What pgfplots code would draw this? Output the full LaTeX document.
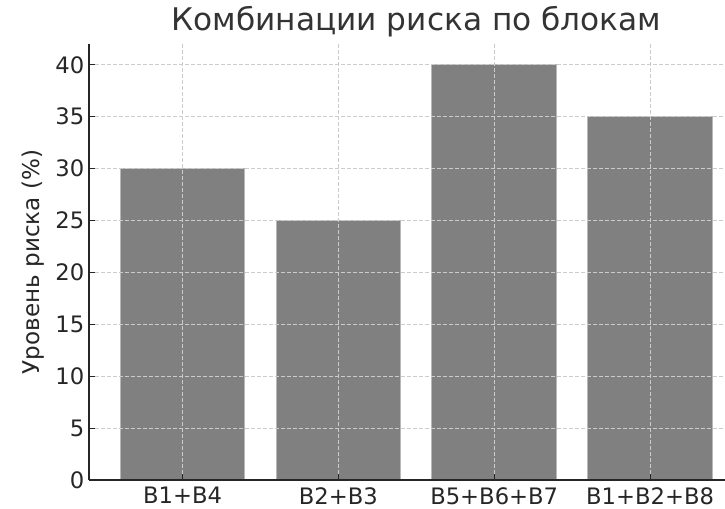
\documentclass[border=0pt]{standalone}
\usepackage{fontspec}
\setmainfont{DejaVu Sans}
\usepackage{pgfplots}
\pgfplotsset{compat=1.18}
\definecolor{txt}{HTML}{262626}
\definecolor{titlec}{HTML}{333333}
\definecolor{barc}{HTML}{808080}
\definecolor{baredge}{HTML}{B8B8B8}
\definecolor{gridc}{HTML}{CCCCCC}
\begin{document}
\begin{tikzpicture}
\path[use as bounding box, clip] (0pt,0pt) rectangle (543.75pt,381pt);
\begin{axis}[
  at={(66.75pt,21pt)}, anchor=south west,
  scale only axis, width=490.95pt, height=327pt,
  xmin=-0.6, xmax=3.6, ymin=0, ymax=42,
  axis lines=left,
  axis line style={-, line width=1.3pt, color=txt},
  axis on top,
  tick align=inside,
  major tick length=4.5pt,
  tick style={line width=0.75pt, color=txt},
  xtick={0,1,2,3},
  xticklabels={B1+B4, B2+B3, B5+B6+B7, B1+B2+B8},
  ytick={0,5,...,40},
  /pgf/number format/assume math mode=true,
  ticklabel style={font=\fontsize{17}{20}\selectfont, text=txt},
  xticklabel style={yshift=-2pt},
  grid=major,
  grid style={dash pattern=on 3pt off 1.5pt, gridc, line width=0.75pt},
  every axis y label/.style={at={(axis description cs:-0.0855,0.5)}, rotate=90, anchor=center, font=\fontsize{17.3}{20}\selectfont, text=txt},
  ylabel={Уровень риска (\%)},
  title={Комбинации риска по блокам},
  title style={at={(axis description cs:0.5,1)}, anchor=base, yshift=3.8pt, font=\fontsize{23.4}{27}\selectfont, text=titlec},
]
\addplot[ybar, bar width=0.8, fill=barc, draw=baredge, line width=0.6pt] coordinates {(0,30) (1,25) (2,40) (3,35)};
\end{axis}
\end{tikzpicture}
\end{document}
